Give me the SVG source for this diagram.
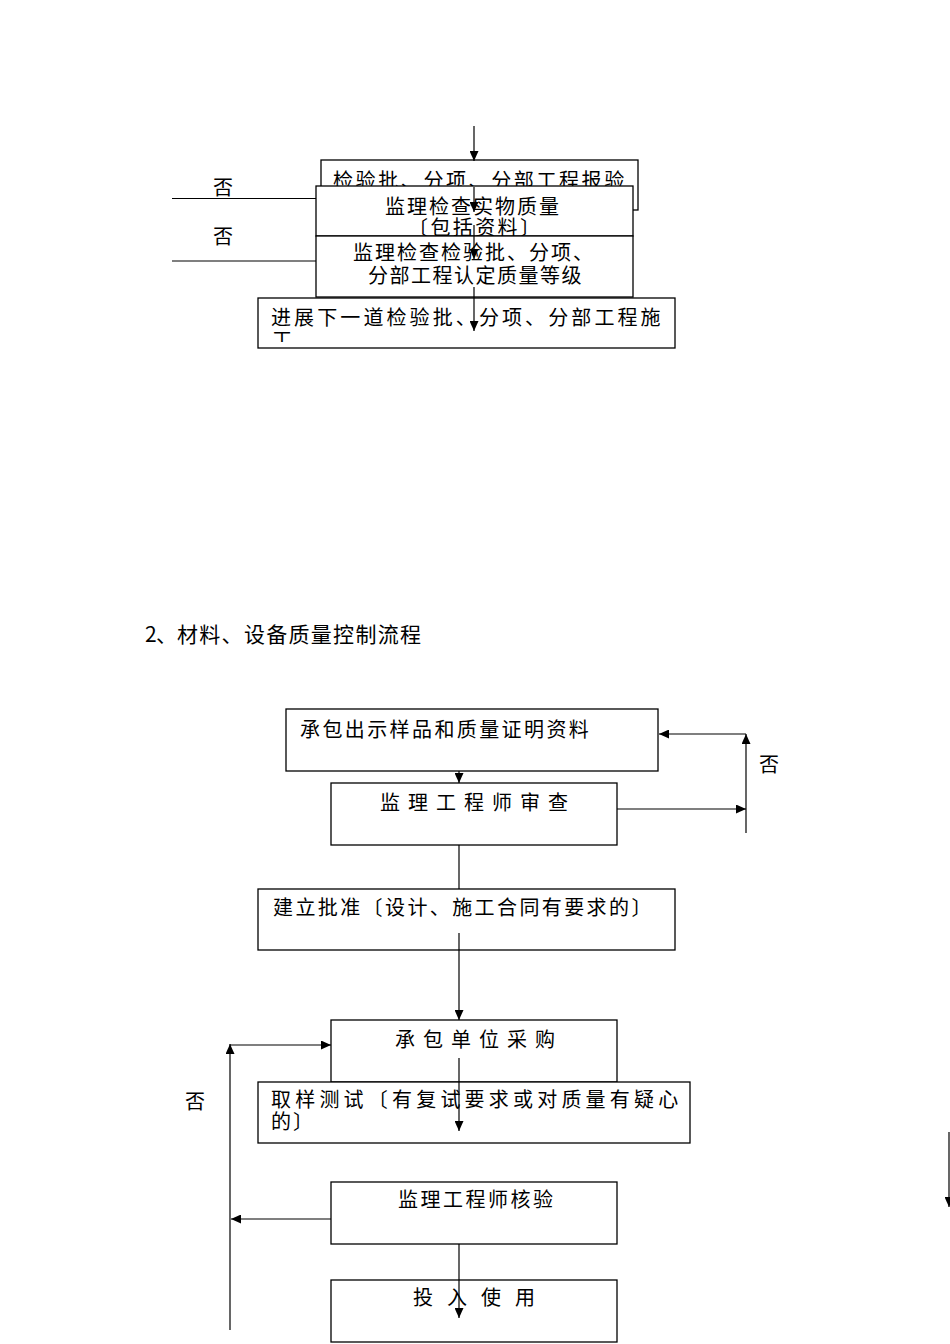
<svg xmlns="http://www.w3.org/2000/svg" width="950" height="1344" viewBox="0 0 950 1344">
<style>
.box{fill:#fff;stroke:#000;stroke-width:1.3}
.t{font-family:"Noto Sans CJK SC","Noto Sans CJK TC",sans-serif;font-size:20px;fill:#000}
.c{stroke:#000;stroke-width:1.2;fill:none}
.a{stroke:#000;stroke-width:1.2;fill:none;marker-end:url(#ah)}
</style>
<defs>
<marker id="ah" markerUnits="userSpaceOnUse" markerWidth="10" markerHeight="9" refX="10" refY="4.5" orient="auto" viewBox="0 0 10 9">
<path d="M0,0 L10,4.5 L0,9 z" fill="#000"/>
</marker>
<clipPath id="clip4"><rect x="258" y="298" width="417" height="44"/></clipPath>
</defs>
<rect width="950" height="1344" fill="#fff"/>

<g id="n1"><rect class="box" x="321" y="160" width="317" height="50"/>
<text class="t" x="333" y="188" letter-spacing="2.6">检验批、分项、分部工程报验</text></g>
<g id="n2"><rect class="box" x="316" y="186" width="317" height="50"/>
<text class="t" x="385" y="214" letter-spacing="2">监理检查实物质量</text>
<text class="t" x="408" y="235" letter-spacing="2.4">〔包括资料〕</text></g>
<g id="n3"><rect class="box" x="316" y="236" width="317" height="61"/>
<text class="t" x="353" y="260" letter-spacing="2">监理检查检验批、分项、</text>
<text class="t" x="368" y="283" letter-spacing="1.5">分部工程认定质量等级</text></g>
<g id="n4"><rect class="box" x="258" y="298" width="417" height="50"/>
<text class="t" x="271" y="325" letter-spacing="3.1">进展下一道检验批、分项、分部工程施</text>
<text class="t" x="272" y="347" clip-path="url(#clip4)">工</text></g>
<g id="l1"><text class="t" x="213" y="195">否</text><text class="t" x="213" y="244">否</text></g>

<g id="title"><text class="t" style="font-size:21px" x="145 156 177" y="642" letter-spacing="1.3">2、材料、设备质量控制流程</text></g>

<g id="nA"><rect class="box" x="286" y="709" width="372" height="62"/>
<text class="t" x="300" y="737" letter-spacing="2.4">承包出示样品和质量证明资料</text></g>
<g id="nB"><rect class="box" x="331" y="783" width="286" height="62"/>
<text class="t" x="380 401 408 429 436 457 464 485 492 513 520 541 548" y="810">监 理 工 程 师 审 查</text></g>
<g id="nC"><rect class="box" x="258" y="889" width="417" height="61"/>
<text class="t" x="273" y="915" letter-spacing="2.4">建立批准〔设计、施工合同有要求的〕</text></g>
<g id="nD"><rect class="box" x="331" y="1020" width="286" height="62"/>
<text class="t" x="395 416 423 444 451 472 479 500 507 528 535" y="1047">承 包 单 位 采 购</text></g>
<g id="nE"><rect class="box" x="258" y="1082" width="432" height="61"/>
<text class="t" x="271" y="1107" letter-spacing="4.2">取样测试〔有复试要求或对质量有疑心</text>
<text class="t" x="271" y="1129" letter-spacing="2">的〕</text></g>
<g id="nF"><rect class="box" x="331" y="1182" width="286" height="62"/>
<text class="t" x="398" y="1207" letter-spacing="2.5">监理工程师核验</text></g>
<g id="nG"><rect class="box" x="331" y="1280" width="286" height="62"/>
<text class="t" x="413 435 447 469 481 503 515" y="1305">投 入 使 用</text></g>
<g id="l2"><text class="t" x="759" y="772">否</text><text class="t" x="185" y="1109">否</text></g>

<g id="connectors">
<line class="a" x1="474" y1="126" x2="474" y2="161"/>
<line class="a" x1="474" y1="187" x2="474" y2="212"/>
<line class="a" x1="474" y1="225" x2="474" y2="259"/>
<line class="a" x1="474" y1="287" x2="474" y2="331"/>
<line class="c" x1="172" y1="198.5" x2="316" y2="198.5"/>
<line class="c" x1="172" y1="261" x2="316" y2="261"/>

<line class="a" x1="459" y1="771" x2="459" y2="783"/>
<line class="a" x1="617" y1="809" x2="746" y2="809"/>
<line class="a" x1="746" y1="833" x2="746" y2="734"/>
<line class="a" x1="746" y1="734" x2="659" y2="734"/>
<line class="c" x1="459" y1="845" x2="459" y2="889"/>
<line class="a" x1="459" y1="933" x2="459" y2="1020"/>
<line class="a" x1="459" y1="1058" x2="459" y2="1131"/>
<line class="a" x1="331" y1="1219" x2="231" y2="1219"/>
<line class="a" x1="230" y1="1330" x2="230" y2="1044"/>
<line class="a" x1="230" y1="1045" x2="331" y2="1045"/>
<line class="a" x1="459" y1="1244" x2="459" y2="1318"/>
<line class="a" x1="949" y1="1132" x2="949" y2="1207"/>
</g>
</svg>
